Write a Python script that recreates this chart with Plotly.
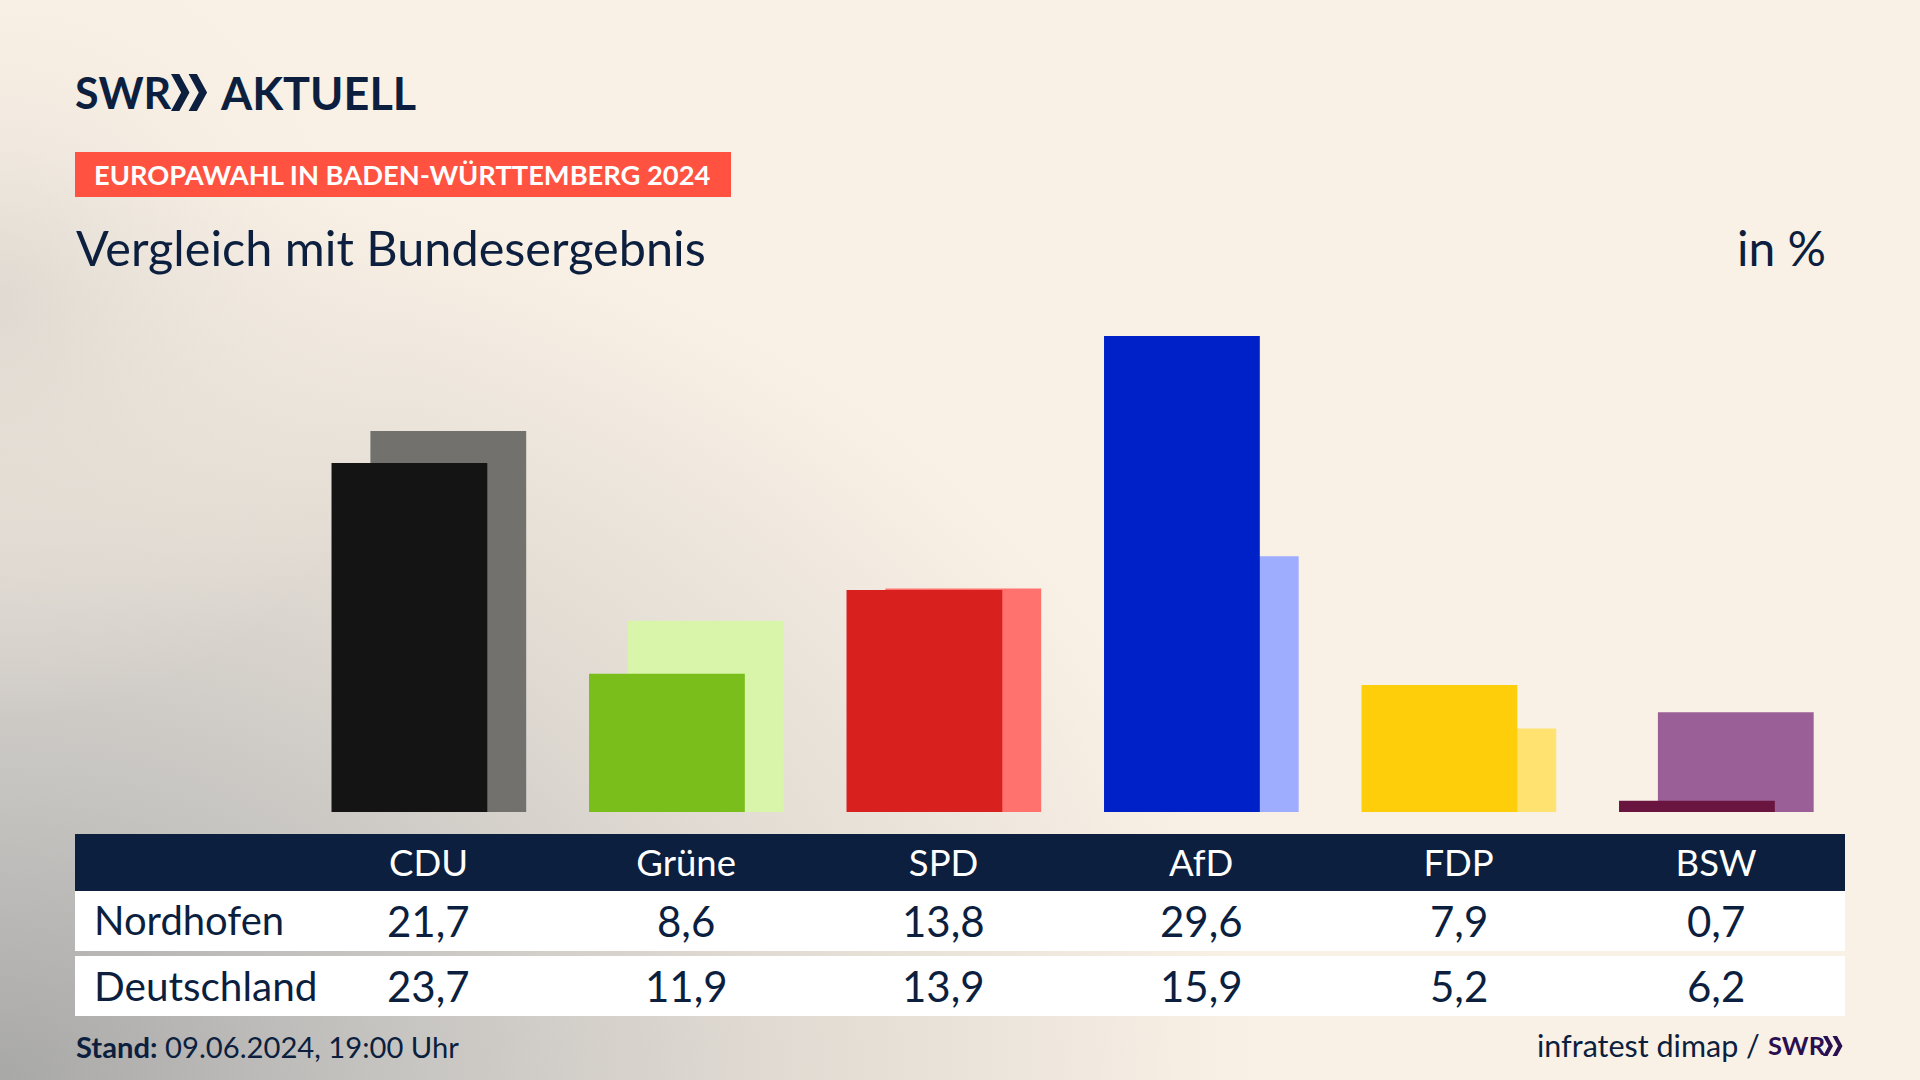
import base64
import plotly.graph_objects as go

parties = ["CDU", "Grüne", "SPD", "AfD", "FDP", "BSW"]
nordhofen = [21.7, 8.6, 13.8, 29.6, 7.9, 0.7]
deutschland = [23.7, 11.9, 13.9, 15.9, 5.2, 6.2]
colors_region = ["#141414", "#79BE1A", "#D8201F", "#0020C8", "#FFCE0B", "#6A1540"]
colors_bund = ["#72716E", "#D8F5AA", "#FF726E", "#9FADFF", "#FFE26F", "#9B5F97"]
row_labels = ["Nordhofen", "Deutschland"]

NAVY = "#0C1F3F"
FONT = "Lato"
W, H = 1920, 1080
# plot area in page pixels
L, R, T, B = 75, 1845, 290, 812

# background: cream with a grey glow from the lower left corner
svg = f"""<svg xmlns="http://www.w3.org/2000/svg" width="{W}" height="{H}">
<rect width="{W}" height="{H}" fill="#FAF1E6"/>
<defs><radialGradient id="g" gradientUnits="userSpaceOnUse" cx="0" cy="0" r="1400"
gradientTransform="translate(0,1080) scale(1,0.74)">
<stop offset="0" stop-color="#A8A8A7"/>
<stop offset="0.28" stop-color="#C6C4C1"/>
<stop offset="0.55" stop-color="#E0DAD2"/>
<stop offset="0.9" stop-color="#FAF1E6"/>
</radialGradient>
<radialGradient id="e" gradientUnits="userSpaceOnUse" cx="0" cy="0" r="420"
gradientTransform="translate(0,300) scale(1,1)">
<stop offset="0" stop-color="#D8D3CC" stop-opacity="0.7"/>
<stop offset="1" stop-color="#FAF1E6" stop-opacity="0"/>
</radialGradient></defs>
<rect width="{W}" height="{H}" fill="url(#g)"/>
<rect width="{W}" height="{H}" fill="url(#e)"/></svg>"""
bg_uri = "data:image/svg+xml;base64," + base64.b64encode(svg.encode()).decode()


def px(x):
    return (x - L) / (R - L)


def py(y):
    return (B - y) / (B - T)


def chevrons(x, y, h, color):
    # two arrow heads, used in the SWR logo
    w = h * 0.5
    paths = []
    for dx in (0, w * 0.95):
        x0 = x + dx
        pts = [(x0, y), (x0 + w * 0.45, y), (x0 + w, y + h / 2),
               (x0 + w * 0.45, y + h), (x0, y + h), (x0 + w * 0.55, y + h / 2)]
        d = "M" + " L".join(f"{px(a):.5f},{py(b):.5f}" for a, b in pts) + " Z"
        paths.append(dict(type="path", path=d, xref="paper", yref="paper", fillcolor=color,
                          line_width=0, layer="above"))
    return paths


def rect(x0, y0, x1, y1, color):
    return dict(type="rect", xref="paper", yref="paper", x0=px(x0), x1=px(x1), y0=py(y1), y1=py(y0),
                fillcolor=color, line_width=0, layer="below")


def label(x, y, text, size, color=NAVY, anchor="left", xref="paper"):
    return dict(x=x if xref != "paper" else px(x), y=py(y), xref=xref, yref="paper", text=text,
                showarrow=False, xanchor=anchor, yanchor="middle", borderpad=0,
                font=dict(family=FONT, size=size, color=color))


fig = go.Figure()
fig.add_bar(x=parties, y=deutschland, marker_color=colors_bund, marker_line_width=0,
            width=0.605, offset=-0.226, name="Deutschland")
fig.add_bar(x=parties, y=nordhofen, marker_color=colors_region, marker_line_width=0,
            width=0.605, offset=-0.377, name="Nordhofen")

shapes = [
    rect(75, 152, 731, 197, "#FF5240"),
    rect(75, 834, 1845, 891, NAVY),
    rect(75, 891, 1845, 951, "#FFFFFF"),
    rect(75, 956, 1845, 1016, "#FFFFFF"),
]
shapes += chevrons(171, 74, 37, NAVY)
shapes += chevrons(1823, 1036, 20, "#2A1050")

annotations = [
    label(74, 93, "<b>SWR</b>", 43),
    label(219, 93, "<b>AKTUELL</b>", 45),
    label(93, 175, "<b>EUROPAWAHL IN BADEN-WÜRTTEMBERG 2024</b>", 27.3, "#FFFFFF"),
    label(75, 247, "Vergleich mit Bundesergebnis", 48.6),
    label(1827, 247, "in %", 48, anchor="right"),
    label(93, 920, row_labels[0], 40),
    label(93, 985, row_labels[1], 40.5),
    label(75, 1046, "<b>Stand:</b> 09.06.2024, 19:00 Uhr", 29.2),
    label(1761, 1045, "infratest dimap /", 30.5, anchor="right"),
    label(1767, 1045, "<b>SWR</b>", 25.5, "#2A1050"),
]
for name, a, b in zip(parties, nordhofen, deutschland):
    annotations.append(label(name, 921, f"{a:.1f}".replace(".", ","), 42, anchor="center", xref="x"))
    annotations.append(label(name, 986, f"{b:.1f}".replace(".", ","), 42, anchor="center", xref="x"))

fig.update_layout(
    width=W, height=H, barmode="overlay", showlegend=False,
    margin=dict(l=L, r=W - R, t=T, b=H - B, autoexpand=False),
    paper_bgcolor="#FAF1E6", plot_bgcolor="rgba(0,0,0,0)",
    shapes=shapes, annotations=annotations,
    images=[dict(source=bg_uri, xref="paper", yref="paper", x=px(0), y=py(0),
                 sizex=W / (R - L), sizey=H / (B - T),
                 xanchor="left", yanchor="top", sizing="stretch", layer="below")],
    xaxis=dict(type="category", categoryorder="array", categoryarray=parties,
               range=[-1.3732, 5.5006], showgrid=False, zeroline=False, showline=False,
               ticks="", ticklabelstandoff=26,
               tickfont=dict(family=FONT, size=36.5, color="#FFFFFF")),
    yaxis=dict(range=[0, (B - T) / 16.08], visible=False),
)

fig.write_html("out.html", config=dict(displayModeBar=False),
               post_script="document.body.style.margin='0';document.body.style.overflow='hidden';")
